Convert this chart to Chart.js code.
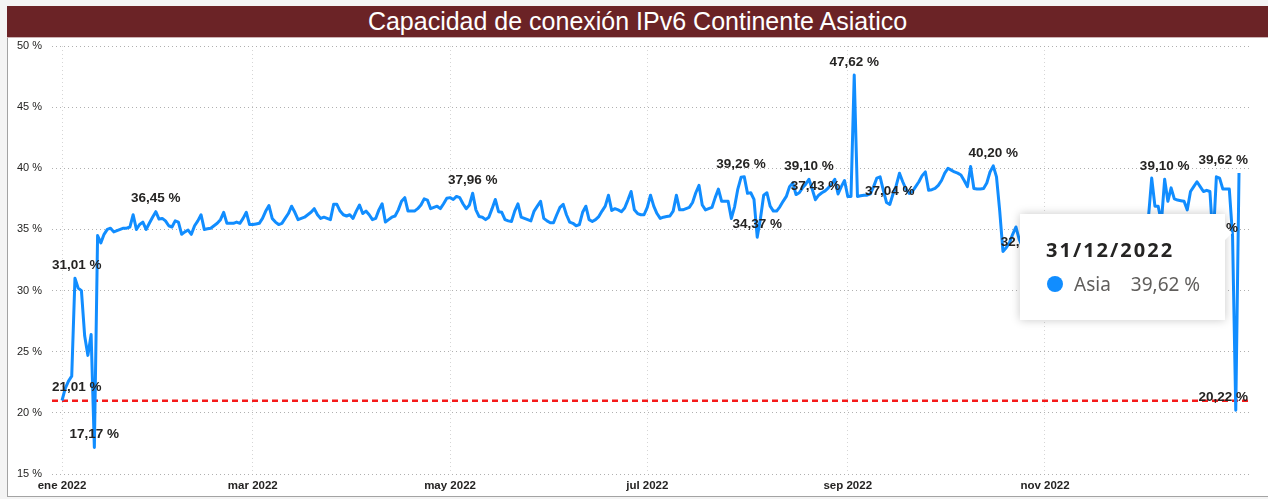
<!DOCTYPE html>
<html lang="es">
<head>
<meta charset="utf-8">
<title>Capacidad de conexión IPv6 Continente Asiatico</title>
<script src="https://cdn.jsdelivr.net/npm/chart.js@4.4.1/dist/chart.umd.min.js"></script>
<style>
  html, body { margin: 0; padding: 0; background: #f4f4f4; }
  body { width: 1268px; height: 499px; position: relative; overflow: hidden; font-family: 'Liberation Sans', Arial, sans-serif; }
  .frame { position: absolute; left: 7px; top: 6px; width: 1261px; height: 491px; background: #fff;
           border-left: 1px solid #a3a3a3; border-bottom: 1px solid #a3a3a3; box-sizing: border-box; }
  .titlebar { position: absolute; left: 7px; top: 6px; width: 1261px; height: 31px; background: #6b2326;
              color: #fff; font-size: 25px; line-height: 31px; text-align: center; border-bottom: 1px solid #cdb3b4; }
  #chart { position: absolute; left: 0; top: 0; }
  #tip { position: absolute; display: none; width: 205px; height: 106px; box-sizing: border-box;
         background: #fff; box-shadow: 0 0 9px rgba(0,0,0,0.22); padding: 24px 0 0 26px;
         font-family: 'Noto Sans', 'Open Sans', sans-serif; }
  #tip::after { content: ''; position: absolute; right: -7px; top: 12px; border-style: solid;
                border-width: 7px 0 7px 7px; border-color: transparent transparent transparent #fff; }
  #tip .t-title { font-weight: bold; font-size: 20px; line-height: 24px; letter-spacing: 2px; color: #252423; }
  #tip .t-row { margin-top: 10px; font-size: 19px; line-height: 24px; color: #605e5c; display: flex; align-items: center; }
  #tip .t-dot { width: 16px; height: 16px; border-radius: 50%; background: #118dff; margin: 0 11px 0 1px; }
  #tip .t-val { margin-left: 20px; }
</style>
</head>
<body>
<div class="frame"></div>
<div class="titlebar">Capacidad de conexión IPv6 Continente Asiatico</div>
<canvas id="chart" width="1268" height="499"></canvas>
<div id="tip"><div class="t-title"></div><div class="t-row"><span class="t-dot"></span><span class="t-name"></span><span class="t-val"></span></div></div>
<script>
// serie diaria 2022, % de capacidad IPv6 (Asia), dia 0 = 01/01/2022
const startYear  = 2022;
const seriesName = 'Asia';
const targetValue = 21;

const tickDays   = [0, 59, 120, 181, 243, 304];
const tickLabels = ['ene 2022', 'mar 2022', 'may 2022', 'jul 2022', 'sep 2022', 'nov 2022'];

const asia = [
  21.01, 22.0, 22.6, 23.0, 31.01, 30.2, 30.0, 26.3, 24.7, 26.4, 17.17,          // 0-10
  34.5, 33.9, 34.6, 35.0, 35.1, 34.8, 34.9, 35.0, 35.1, 35.1,                    // 11-20
  35.2, 36.2, 35.0, 35.4, 35.6, 35.0, 35.5, 36.0, 36.45, 35.85,                  // 21-30
  35.9, 35.7, 35.3, 35.2, 35.7, 35.6, 34.6, 34.8, 34.95, 34.6,                   // 31-40
  35.3, 35.7, 36.2, 35.0, 35.05, 35.1, 35.3, 35.5, 35.8, 36.4,                   // 41-50
  35.5, 35.5, 35.5, 35.6, 35.5, 35.9, 36.4, 35.4,                                // 51-58
  35.4, 35.45, 35.5, 35.9, 36.5, 36.95, 35.9, 35.6, 35.4, 35.5,                  // 59-68
  35.9, 36.3, 36.9, 36.4, 35.8, 35.9, 36.0, 36.2, 36.4, 36.7,                    // 69-78
  36.2, 35.9, 36.0, 35.9, 35.8, 37.05, 37.05, 36.5, 36.2, 36.1,                  // 79-88
  36.2, 35.9, 36.5, 37.0, 36.3, 36.5, 36.2, 35.8, 35.9, 36.6,                    // 89-98
  37.1, 35.6, 35.8, 36.0, 36.1, 36.6, 37.3, 37.6, 36.5, 36.5,                    // 99-108
  36.5, 36.7, 37.0, 37.5, 37.4, 36.7, 36.8, 36.9, 36.7, 37.1, 37.55,             // 109-119
  37.6, 37.45, 37.7, 37.6, 37.1, 36.7, 37.0, 37.96, 36.6, 36.05,                 // 120-129
  36.0, 35.8, 36.0, 36.7, 37.45, 36.45, 36.4, 35.8, 35.7, 35.65,                 // 130-139
  36.5, 37.1, 36.0, 35.9, 35.8, 35.7, 36.5, 36.9, 37.3, 35.9,                    // 140-149
  35.7, 35.55, 35.55, 36.2, 36.8, 37.05, 36.2, 35.6, 35.5, 35.3,                 // 150-159
  35.4, 36.4, 36.9, 35.8, 35.65, 35.8, 36.05, 36.5, 36.9, 37.8,                  // 160-169
  36.55, 36.7, 36.6, 36.45, 36.75, 37.4, 38.1, 36.6, 36.3, 36.2,                 // 170-179
  36.2, 36.8, 37.8, 36.9, 36.3, 35.9, 36.0, 36.05, 36.1, 36.5,                   // 180-189
  37.8, 36.6, 36.6, 36.7, 36.8, 37.2, 38.0, 38.6, 37.0, 36.6,                    // 190-199
  36.7, 36.8, 37.6, 38.3, 37.3, 37.3, 37.3, 35.9, 36.85, 38.3,                   // 200-209
  39.26, 39.3, 37.95, 38.0, 37.45, 34.37, 35.9, 37.8, 38.0, 36.9,                // 210-219
  36.5, 36.5, 36.85, 37.3, 37.7, 38.5, 38.8, 37.85, 38.0, 38.4,                  // 220-229
  38.7, 39.10, 38.3, 37.43, 37.8, 38.0, 38.15, 38.4, 38.7, 39.1,                 // 230-239
  37.9, 38.5, 39.0, 37.7, 37.7, 47.62, 37.7, 37.75, 37.8, 37.8,                  // 240-249
  37.9, 38.5, 39.2, 39.3, 38.2, 37.2, 37.04, 37.9, 38.6, 39.6,                   // 250-259
  38.9, 38.3, 37.95, 38.1, 38.5, 38.9, 39.4, 39.7, 38.2, 38.25,                  // 260-269
  38.35, 38.6, 39.0, 39.6, 40.0, 39.85, 39.7, 39.6, 39.45, 39.0,                 // 270-279
  38.5, 40.15, 38.35, 38.3, 38.3, 38.35, 38.8, 39.7, 40.2, 39.3,                 // 280-289
  36.5, 33.2, 33.5, 33.9, 34.6, 35.2, 34.2, 33.6, 32.91, 33.8,                   // 290-299
  34.5, 35.0, 34.2, 34.0, 33.9, 34.3, 34.8, 35.3, 34.5, 34.2,                    // 300-309
  34.1, 34.4, 34.9, 35.4, 34.6, 34.3, 34.2, 34.5, 35.0, 35.5,                    // 310-319
  34.7, 34.4, 34.3, 34.6, 35.1, 35.6, 34.8, 34.5, 34.4, 34.7,                    // 320-329
  35.2, 35.7, 34.9, 34.6, 34.5, 35.0,                                            // 330-335
  36.0, 39.2, 36.9, 36.9, 35.6, 39.10, 37.3, 38.4, 37.5, 37.4,                   // 336-345
  37.35, 37.3, 36.6, 38.1, 38.5, 38.9, 38.5, 38.1, 38.2, 38.1,                   // 346-355
  34.05, 39.3, 39.2, 38.3, 38.3, 38.3, 34.5, 20.22, 39.62                        // 356-364
];

// dias con etiqueta de valor
const labelDays = [0, 4, 10, 29, 127, 210, 215, 231, 233, 245, 256, 288, 298, 341, 356, 363, 364];

const fmt = v => v.toFixed(2).replace('.', ',') + ' %';
const pad2 = n => String(n).padStart(2, '0');
function dayToDate(d) {
  const dt = new Date(startYear, 0, 1 + d);
  return pad2(dt.getDate()) + '/' + pad2(dt.getMonth() + 1) + '/' + dt.getFullYear();
}

// linea roja punteada de referencia
const targetLine = {
  id: 'targetLine',
  beforeDatasetsDraw(chart) {
    const { ctx, chartArea: a, scales: { y } } = chart;
    const py = y.getPixelForValue(targetValue);
    ctx.save();
    ctx.strokeStyle = '#f51a1a';
    ctx.lineWidth = 2.5;
    ctx.setLineDash([6, 4]);
    ctx.beginPath();
    ctx.moveTo(a.left, py);
    ctx.lineTo(a.right, py);
    ctx.stroke();
    ctx.restore();
  }
};

// etiquetas de datos (estilo Power BI, se ajustan al area del grafico)
const pointLabels = {
  id: 'pointLabels',
  afterDatasetsDraw(chart) {
    const { ctx, chartArea: a } = chart;
    const meta = chart.getDatasetMeta(0);
    ctx.save();
    ctx.font = 'bold 13.5px "Liberation Sans", Arial, sans-serif';
    ctx.fillStyle = '#252423';
    ctx.textAlign = 'center';
    ctx.textBaseline = 'middle';
    labelDays.forEach(d => {
      const pt = meta.data[d];
      const txt = fmt(asia[d]);
      const w = ctx.measureText(txt).width;
      const x = Math.min(Math.max(pt.x, a.left + w / 2), a.right - 2 - w / 2);
      ctx.fillText(txt, x, pt.y - 13);
    });
    ctx.restore();
  }
};

function externalTip(context) {
  const { chart, tooltip } = context;
  const el = document.getElementById('tip');
  if (tooltip.opacity === 0 || !tooltip.dataPoints || !tooltip.dataPoints.length) {
    el.style.display = 'none';
    return;
  }
  const dp = tooltip.dataPoints[0];
  el.querySelector('.t-title').textContent = tooltip.title[0];
  el.querySelector('.t-name').textContent = dp.dataset.label;
  el.querySelector('.t-val').textContent = fmt(dp.parsed.y);
  el.style.display = 'block';
  el.style.left = (chart.canvas.offsetLeft + tooltip.caretX - 14 - el.offsetWidth) + 'px';
  el.style.top  = (chart.canvas.offsetTop + tooltip.caretY + 41) + 'px';
}

const ctx = document.getElementById('chart').getContext('2d');
const chart = new Chart(ctx, {
  type: 'line',
  data: {
    datasets: [{
      label: seriesName,
      data: asia.map((v, i) => ({ x: i, y: v })),
      borderColor: '#118dff',
      borderWidth: 3,
      borderJoinStyle: 'round',
      pointRadius: 0,
      pointHoverRadius: 0,
      tension: 0
    }]
  },
  options: {
    responsive: false,
    animation: false,
    events: [],
    layout: { padding: { left: 0, top: 46, right: 18, bottom: 0 } },
    plugins: {
      legend: { display: false },
      tooltip: {
        enabled: false,
        external: externalTip,
        callbacks: { title: items => dayToDate(items[0].parsed.x) }
      }
    },
    scales: {
      x: {
        type: 'linear',
        min: -3.1,
        max: 367.4,
        afterBuildTicks: s => { s.ticks = tickDays.map(v => ({ value: v })); },
        afterFit: s => { s.height = 25; },
        ticks: {
          autoSkip: false, maxRotation: 0, padding: 5,
          callback: (v, i) => tickLabels[i],
          color: '#252423',
          font: { family: '"Liberation Sans", Arial, sans-serif', size: 11.5, weight: 'bold' }
        },
        grid: { color: '#d6d6d6', drawTicks: false },
        border: { display: false, dash: [1, 3] }
      },
      y: {
        min: 15,
        max: 50,
        afterFit: s => { s.width = 52; },
        ticks: {
          stepSize: 5, padding: 10,
          callback: v => v + ' %',
          color: '#252423',
          font: { family: '"Liberation Sans", Arial, sans-serif', size: 11 }
        },
        grid: { color: '#b0b0b0', drawTicks: false },
        border: { display: false, dash: [1, 3] }
      }
    }
  },
  plugins: [targetLine, pointLabels]
});

// tooltip fijo sobre el ultimo dia, como en la captura
const lastDay = asia.length - 1;
const lastPt = chart.getDatasetMeta(0).data[lastDay];
chart.tooltip.setActiveElements([{ datasetIndex: 0, index: lastDay }], { x: lastPt.x, y: lastPt.y });
</script>
</body>
</html>
